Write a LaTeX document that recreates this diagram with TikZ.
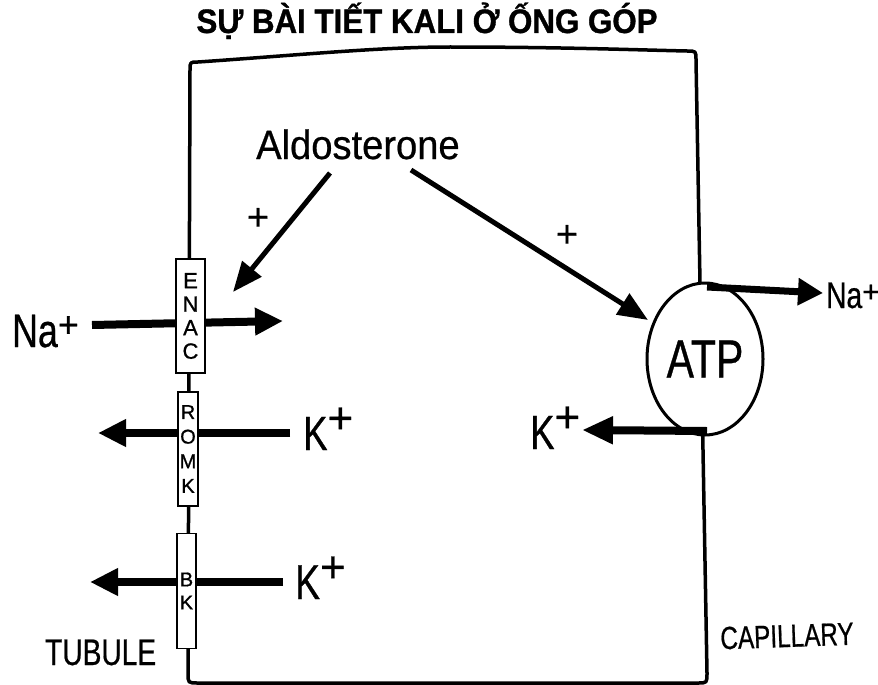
\documentclass[tikz,border=0pt]{standalone}
\usepackage{fontspec}
\setmainfont{Liberation Sans}
\newfontfamily\cnd[FakeStretch=0.76,FakeBold=0.6]{Liberation Sans}
\newfontfamily\cndw[FakeStretch=0.93,FakeBold=0.6]{Liberation Sans}
\newfontfamily\plainb[FakeBold=0.6]{Liberation Sans}
\newfontfamily\chanf[FakeBold=1]{Liberation Sans}
\newfontfamily\titlef[FakeStretch=0.92,FakeBold=1]{Liberation Sans Bold}
\usetikzlibrary{arrows.meta,shapes.geometric}
\newcommand{\fs}[1]{\fontsize{#1}{#1}\selectfont}
\newcommand{\rplus}[2]{{\plainb\fontsize{#1}{#1}\selectfont\raisebox{#2}{+}}}
\begin{document}
\begin{tikzpicture}[x=1pt,y=-1pt,
  membrane/.style={line width=3.5pt, line join=round},
  chan/.style={draw, line width=1.8pt, fill=white, inner sep=0pt, align=center},
  flux/.style={line width=8pt, -{Triangle[length=28pt,width=26pt]}},
  horm/.style={line width=5pt, -{Triangle[length=30pt,width=24pt]}},
  lbl/.style={inner sep=0pt, anchor=base west}]
\useasboundingbox (0,0) rectangle (878,685);

% title
\node[inner sep=0pt, anchor=base, font=\titlef\fs{34}] (title) at (427,33) {SỰ BÀI TIẾT KALI Ở ỐNG GÓP};

% cell outline
\draw[membrane] (198,683) -- (698,683) .. controls (707,683) .. (707,673) -- (696,60)
  .. controls (696,51) .. (687,51) .. controls (640,50) and (560,47) .. (450,47)
  .. controls (380,47) and (300,55) .. (198,62) .. controls (190,62) .. (190,70)
  -- (188,673) .. controls (188,683) .. (198,683) -- cycle;

% coordinates
\coordinate (naLs) at (92,325);
\coordinate (naLe) at (283,321);
\coordinate (k1s) at (290,433);
\coordinate (k1e) at (98,433);
\coordinate (k2s) at (283,582);
\coordinate (k2e) at (90,582);
\coordinate (a1s) at (330,173);
\coordinate (a1e) at (233,292);
\coordinate (a2s) at (411,170);
\coordinate (a2e) at (648,320);
\coordinate (naRs) at (707,287);
\coordinate (naRe) at (823,293);
\coordinate (kRs) at (707,431);
\coordinate (kRe) at (582,430);

% luminal fluxes (behind channels)
\draw[flux] (naLs) -- (naLe);
\draw[flux] (k1s) -- (k1e);
\draw[flux] (k2s) -- (k2e);

% channels
\node[chan, minimum width=29pt, minimum height=114pt, font=\chanf\fontsize{22}{23.5}\selectfont] (enac) at (190.5,316) {E\\N\\A\\C};
\node[chan, minimum width=20pt, minimum height=114pt, font=\chanf\fontsize{20}{24.6}\selectfont] (romk) at (188,449) {R\\O\\M\\K};
\node[chan, minimum width=19pt, minimum height=115pt, font=\chanf\fontsize{20}{23}\selectfont] (bk) at (186.5,591) {B\\K};

% ATP pump
\node[draw, ellipse, line width=3pt, fill=white, minimum width=116pt, minimum height=152pt, inner sep=0pt, font=\cnd\fs{54}] (atp) at (705,359) {ATP};

% basolateral fluxes
\draw[line width=7pt, -{Triangle[length=25pt,width=26pt]}] (naRs) -- (naRe);
\draw[line width=8pt, -{Triangle[length=31pt,width=26pt]}] (kRs) -- (kRe);

% aldosterone
\node[lbl, font=\cndw\fs{41}] (ald) at (256,159) {Aldosterone};
\draw[horm] (a1s) -- (a1e);
\draw[horm] (a2s) -- (a2e);
\node[inner sep=0pt, font=\plainb\fs{38}] (plus1) at (258,219) {+};
\node[inner sep=0pt, font=\plainb\fs{38}] (plus2) at (567,236) {+};

% ion labels
\node[lbl, font=\cnd\fs{47}] (naL) at (12,347) {Na\rplus{36}{10pt}};
\node[lbl, font=\cnd\fs{48}] (k1) at (303,450) {K\rplus{44}{17pt}};
\node[lbl, font=\cnd\fs{49}] (k2) at (295,599) {K\rplus{44}{17pt}};
\node[lbl, font=\cnd\fs{48}] (kR) at (530,449) {K\rplus{44}{17pt}};
\node[lbl, font=\cnd\fs{37}] (naR) at (826,308) {Na\rplus{30}{6pt}};

% compartment labels
\node[lbl, font=\cnd\fs{37}] (tub) at (45,665) {TUBULE};
\node[inner sep=0pt, font=\cnd\fs{32}, rotate=2] (cap) at (787,636) {CAPILLARY};
\end{tikzpicture}
\end{document}
